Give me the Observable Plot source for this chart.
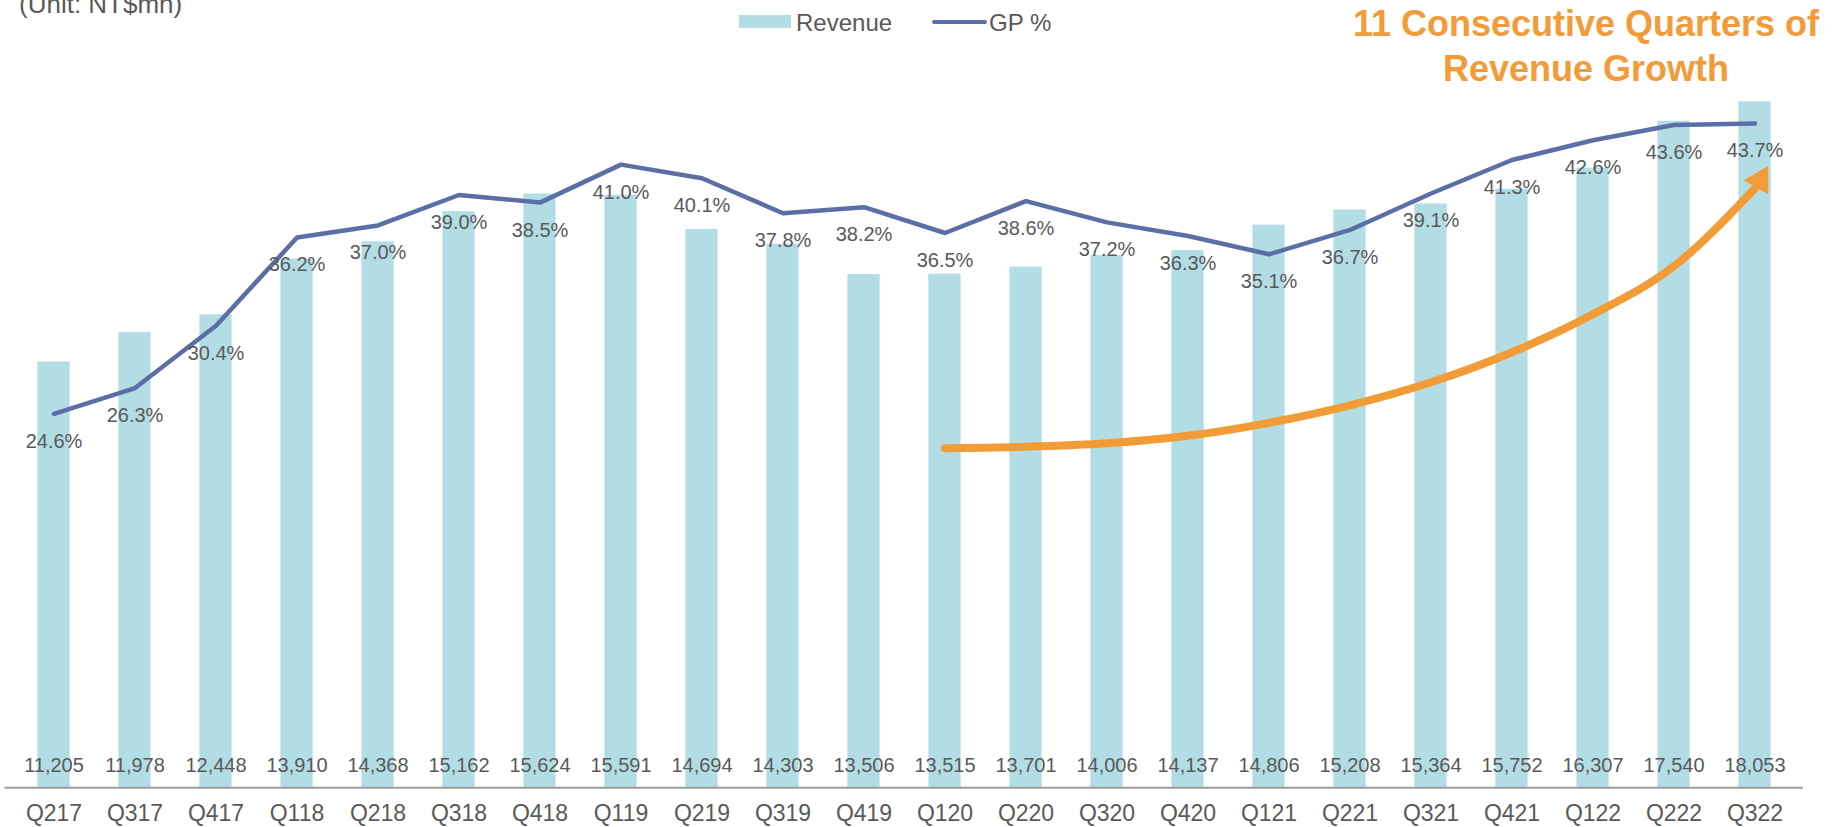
<!DOCTYPE html>
<html>
<head>
<meta charset="utf-8">
<script src="https://cdn.jsdelivr.net/npm/d3@7"></script>
<script src="https://cdn.jsdelivr.net/npm/@observablehq/plot@0.6"></script>
<style>
  html, body { margin: 0; padding: 0; background: #fff; overflow: hidden; }
  #wrap { position: relative; width: 1835px; height: 827px; font-family: "Liberation Sans", Arial, sans-serif; }
  #wrap svg { position: absolute; left: 0; top: 0; }
  .ov { position: absolute; white-space: nowrap; color: #595959; }
</style>
</head>
<body>
<div id="wrap">
  <div class="ov" id="unit" style="left:19px; top:-9.5px; font-size:26px; line-height:26px;">(Unit: NT$mn)</div>
  <div class="ov" style="left:739px; top:15px; width:52px; height:13.3px; background:#B3DDE5;"></div>
  <div class="ov" style="left:796px; top:11.4px; font-size:24px; line-height:24px;">Revenue</div>
  <div class="ov" style="left:932px; top:19.5px; width:55px; height:4.5px; border-radius:2.25px; background:#5B6FA6;"></div>
  <div class="ov" style="left:989px; top:11.4px; font-size:24px; line-height:24px;">GP %</div>
  <div class="ov" style="left:1586px; top:1px; transform:translateX(-50%); text-align:center; font-size:36px; line-height:45px; font-weight:bold; color:#F29B38;">11 Consecutive Quarters of<br>Revenue Growth</div>
</div>
<script>
const quarters = ["Q217","Q317","Q417","Q118","Q218","Q318","Q418","Q119","Q219","Q319","Q419","Q120","Q220","Q320","Q420","Q121","Q221","Q321","Q421","Q122","Q222","Q322"];
const revenue = [11205,11978,12448,13910,14368,15162,15624,15591,14694,14303,13506,13515,13701,14006,14137,14806,15208,15364,15752,16307,17540,18053];
const gpPct = [24.6,26.3,30.4,36.2,37.0,39.0,38.5,41.0,40.1,37.8,38.2,36.5,38.6,37.2,36.3,35.1,36.7,39.1,41.3,42.6,43.6,43.7];

// Orange growth arrow in revenue units
const arrowQuarters = ["Q120","Q220","Q320","Q420","Q121","Q221","Q321","Q421","Q122","Q222","Q322"];
const arrowValues = [8934,8973,9065,9263,9605,10066,10671,11461,12462,13726,15779];

const revMax = 20000, gpMax = 50;
const rows = quarters.map((q, i) => ({q, rev: revenue[i], gp: gpPct[i]}));
const arrowRows = arrowQuarters.map((q, i) => ({q, v: arrowValues[i]}));
const arrowTip = [arrowRows[arrowRows.length - 1]];

const fmt = d3.format(",");
const gray = "#595959";

const chart = Plot.plot({
  width: 1835,
  height: 827,
  marginLeft: 4.6,
  marginRight: 32.1,
  marginTop: 27.3,
  marginBottom: 39.7,
  style: {fontFamily: "'Liberation Sans', Arial, sans-serif", fontSize: "23px", color: gray, background: "transparent"},
  x: {domain: quarters, padding: 0, tickSize: 0, tickPadding: 17, label: null},
  y: {domain: [0, revMax], axis: null},
  marks: [
    Plot.barY(rows, {x: "q", y: "rev", fill: "#B3DDE5", insetLeft: 24.4, insetRight: 24.4}),
    Plot.ruleY([0], {stroke: "#9C9C9C", strokeWidth: 2}),
    Plot.text(rows, {x: "q", y: () => 0, text: d => fmt(d.rev), dy: -22.5, fontSize: 20, fill: gray}),
    Plot.line(arrowRows, {x: "q", y: "v", curve: "monotone-x", stroke: "#F19C37", strokeWidth: 8}),
    Plot.dot(arrowTip, {x: "q", y: "v", symbol: "triangle2", r: 13.5, rotate: 30, fill: "#F19C37", stroke: "none", dx: 5, dy: -8}),
    Plot.lineY(rows, {x: "q", y: d => d.gp / gpMax * revMax, stroke: "#5B6FA6", strokeWidth: 4.5, strokeLinecap: "round", strokeLinejoin: "round"}),
    Plot.text(rows, {x: "q", y: d => d.gp / gpMax * revMax, text: d => d.gp.toFixed(1) + "%", dy: 27.5, fontSize: 20, fill: gray})
  ]
});
document.getElementById("wrap").prepend(chart);
</script>
</body>
</html>
